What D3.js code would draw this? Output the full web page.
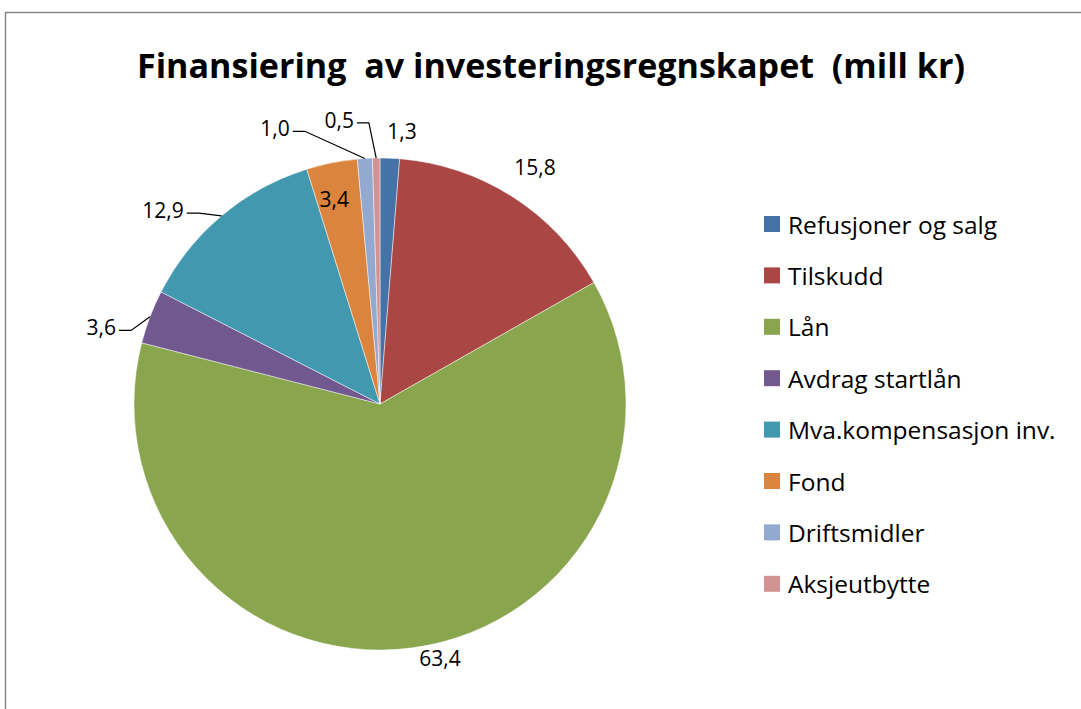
<!DOCTYPE html>
<html>
<head>
<meta charset="utf-8">
<script src="https://cdn.jsdelivr.net/npm/d3@7"></script>
<style>
  body { margin: 0; background: #fff; }
  svg text { font-family: "Open Sans", "Noto Sans", sans-serif; fill: #000; }
</style>
</head>
<body>
<div id="chart"></div>
<script>
// chart data
var categories = ["Refusjoner og salg", "Tilskudd", "Lån", "Avdrag startlån",
                  "Mva.kompensasjon inv.", "Fond", "Driftsmidler", "Aksjeutbytte"];
var values = [1.3, 15.8, 63.4, 3.6, 12.9, 3.4, 1.0, 0.5];
var colors = ["#4572A7", "#AA4643", "#89A54E", "#71588F",
              "#4198AF", "#DB843D", "#93A9CF", "#D19392"];

// label placement: [angle shift from slice middle (deg), distance from centre, leader line]
var labelLayout = [
  [2.3, 274, false],
  [0.7, 283, false],
  [-5.7, 261, false],
  [-5.4, 289, true],
  [-8.1, 291, true],
  [-1.3, 210, false],
  [-17.3, 295, true],
  [-7.3, 287, true]
];

var width = 1081, height = 709;
var cx = 380, cy = 404, radius = 246;

var svg = d3.select("#chart").append("svg")
  .attr("width", width)
  .attr("height", height);

// chart border (runs off the right/bottom edge)
svg.append("rect")
  .attr("x", 5.5).attr("y", 12.5)
  .attr("width", 1100).attr("height", 720)
  .attr("fill", "#fff")
  .attr("stroke", "#868686")
  .attr("stroke-width", 1.5);

svg.append("text")
  .attr("x", 551).attr("y", 78)
  .attr("text-anchor", "middle")
  .attr("textLength", 828)
  .attr("lengthAdjust", "spacingAndGlyphs")
  .style("font-size", "34px")
  .style("font-weight", "bold")
  .style("white-space", "pre")
  .text("Finansiering  av investeringsregnskapet  (mill kr)");

var pie = d3.pie().sort(null).value(function(d) { return d; });
var arcs = pie(values);
var arc = d3.arc().innerRadius(0).outerRadius(radius);

var g = svg.append("g").attr("transform", "translate(" + cx + "," + cy + ")");

g.selectAll("path.slice")
  .data(arcs)
  .enter().append("path")
  .attr("class", "slice")
  .attr("d", arc)
  .attr("fill", function(d, i) { return colors[i]; })
  .attr("stroke", "#fff")
  .attr("stroke-width", 0.8)
  .attr("stroke-opacity", 0.6);

function polar(a, r) { return [Math.sin(a) * r, -Math.cos(a) * r]; }

var fmt = function(v) { return d3.format(".1f")(v).replace(".", ","); };

arcs.forEach(function(d, i) {
  var mid = (d.startAngle + d.endAngle) / 2;
  var lay = labelLayout[i];
  var p = polar(mid + lay[0] * Math.PI / 180, lay[1]);
  var t = g.append("text")
    .attr("x", p[0]).attr("y", p[1])
    .attr("text-anchor", "middle")
    .attr("dominant-baseline", "central")
    .style("font-size", "21px")
    .text(fmt(values[i]));
  if (lay[2]) {
    var bb = t.node().getBBox();
    var x0 = bb.x + bb.width + 3, y0 = p[1] + 3;
    var e = polar(mid, radius);
    var pts = [[x0, y0], [x0 + 12, y0], e];
    g.append("path")
      .attr("d", d3.line()(pts))
      .attr("fill", "none")
      .attr("stroke", "#000")
      .attr("stroke-width", 1.2);
  }
});

// legend
var legend = svg.append("g").attr("transform", "translate(764,224)");
var item = legend.selectAll("g")
  .data(categories)
  .enter().append("g")
  .attr("transform", function(d, i) { return "translate(0," + (i * 51.4) + ")"; });
item.append("rect")
  .attr("x", 0).attr("y", -8)
  .attr("width", 16).attr("height", 16)
  .attr("fill", function(d, i) { return colors[i]; });
item.append("text")
  .attr("x", 24).attr("y", 0)
  .attr("dominant-baseline", "central")
  .style("font-size", "24.5px")
  .text(function(d) { return d; });
</script>
</body>
</html>
